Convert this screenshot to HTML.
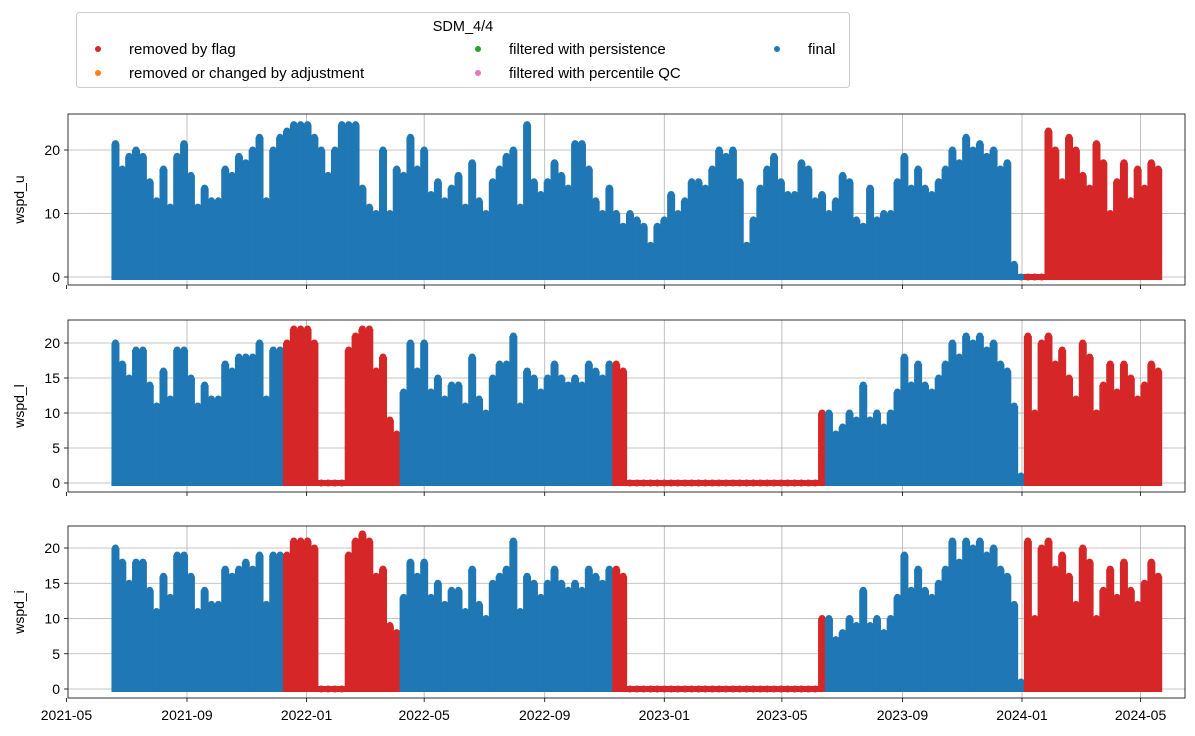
<!DOCTYPE html>
<html><head><meta charset="utf-8">
<style>
body{margin:0;background:#fff;}
svg{display:block;font-family:"Liberation Sans",sans-serif;}
</style></head>
<body>
<svg id="chart" width="1195" height="736" viewBox="0 0 1195 736"></svg>
<script>
const startDate = "2021-06-20";
const stepDays = 7;
const xTickLabels = ["2021-05","2021-09","2022-01","2022-05","2022-09","2023-01","2023-05","2023-09","2024-01","2024-05"];
const panelNames = ["wspd_u","wspd_l","wspd_i"];
const wspdU = [21,17,19,20,19,15,12,17,11,19,
 21,16,11,14,12,12,17,16,19,18,20,22,12,20,22,23,24,24,
 24,22,20,16,20,24,24,24,14,11,10,20,10,17,16,22,17,
 20,13,15,12,14,16,11,18,12,10,15,17,19,20,11,24,15,13,
 15,18,16,14,21,21,17,12,10,14,10,8,10,9,8,5,8,9,
 13,10,12,15,15,14,17,20,19,20,15,5,9,14,17,19,15,13,
 13,18,17,12,13,10,12,16,15,9,8,14,9,10,10,15,19,14,
 17,14,13,15,17,20,18,22,20,21,19,20,17,18,
 2,0,0,0,0,23,20,15,22,20,16,14,21,18,10,15,18,12,17,14,18,17];
const wspdL = [20,17,15,19,19,14,11,16,12,19,
 19,15,11,14,12,12,17,16,18,18,18,20,12,19,19,20,22,22,
 22,20,0,0,0,0,19,21,22,22,16,18,9,7,13,20,16,
 20,13,15,12,14,14,11,18,12,10,15,17,17,21,11,16,15,13,
 15,17,15,14,15,14,17,16,15,17,17,16,0,0,0,0,0,0,
 0,0,0,0,0,0,0,0,0,0,0,0,0,0,0,0,0,0,
 0,0,0,0,10,10,7,8,10,9,14,9,10,8,10,13,18,14,
 17,14,13,15,17,20,18,21,20,21,19,20,17,16,
 11,1,21,10,20,21,17,19,15,12,20,18,10,14,17,13,17,15,12,14,17,16];
const wspdI = [20,18,15,18,18,14,11,16,13,19,
 19,16,11,14,12,12,17,16,17,18,17,19,12,19,19,19,21,21,
 21,20,0,0,0,0,19,21,22,21,16,17,9,8,13,18,16,
 18,13,15,12,14,14,11,17,12,10,15,16,17,21,11,16,15,13,
 15,17,15,14,15,14,17,16,15,17,17,16,0,0,0,0,0,0,
 0,0,0,0,0,0,0,0,0,0,0,0,0,0,0,0,0,0,
 0,0,0,0,10,10,7,8,10,9,14,9,10,8,10,13,19,14,
 17,14,13,15,17,21,18,21,20,21,19,20,17,16,
 12,1,21,10,20,21,17,19,16,12,20,18,10,14,17,13,18,14,12,15,18,16];
const redSpansU = [["2024-01-01","2024-06-01"]];
const redSpansL = [["2021-12-08","2022-04-10"],["2022-11-08","2023-06-15"],["2024-01-01","2024-06-01"]];
const redSpansI = [["2021-12-08","2022-04-10"],["2022-11-08","2023-06-15"],["2024-01-01","2024-06-01"]];
const yTicksU = [0,10,20];
const yTicksL = [0,5,10,15,20];
const yTicksI = [0,5,10,15,20];

const NS="http://www.w3.org/2000/svg";
const svg=document.getElementById('chart');
function mk(tag,attrs,parent){const e=document.createElementNS(NS,tag);for(const k in attrs)e.setAttribute(k,attrs[k]);(parent||svg).appendChild(e);return e;}
const RED="#d62728",BLUE="#1f77b4";
const L=68,R=1185;
const ref0=Date.UTC(2021,8,1);
function dayNum(s){const p=s.split('-').map(Number);return (Date.UTC(p[0],p[1]-1,p[2]||1)-ref0)/86400000;}
function xScale(d){return 187+d*(835/852);}
const panels=[
 {name:panelNames[0],vals:wspdU,spans:redSpansU,ticks:yTicksU,top:114,bot:285,y0:277,ppu:6.35},
 {name:panelNames[1],vals:wspdL,spans:redSpansL,ticks:yTicksL,top:320,bot:492,y0:483,ppu:7.0},
 {name:panelNames[2],vals:wspdI,spans:redSpansI,ticks:yTicksI,top:526,bot:698,y0:689,ppu:7.05}
];
const d0=dayNum(startDate);
panels.forEach((p,pi)=>{
 const g=mk('g',{});
 
 
 const yS=v=>p.y0-v*p.ppu;
 xTickLabels.forEach(t=>{const x=xScale(dayNum(t+"-01"));
  if(x>L&&x<R){const l=mk('line',{x1:x,x2:x,y1:p.top,y2:p.bot,stroke:'#b0b0b0','stroke-width':0.8},g);
  }});
 p.ticks.forEach(t=>{const y=yS(t);
  const l=mk('line',{x1:L,x2:R,y1:y,y2:y,stroke:'#b0b0b0','stroke-width':0.8},g);
  
  mk('line',{x1:L-4,x2:L,y1:y,y2:y,stroke:'#000','stroke-width':0.8},g);
  const tx=mk('text',{x:L-8,y:y+5,'text-anchor':'end','font-size':14},g);tx.textContent=t;
  });
 const spans=p.spans.map(s=>[dayNum(s[0]),dayNum(s[1])]);
 p.vals.forEach((v,i)=>{
  const d=d0+i*stepDays;const x=xScale(d);
  const red=spans.some(s=>d>=s[0]&&d<s[1]);
  const c=red?RED:BLUE;
  if(v>0){const r=mk('rect',{x:x-4,y:yS(v),width:8,height:p.y0-yS(v)+3,fill:c},g);
   }
  const dt=mk('circle',{cx:x,cy:yS(v),r:3.5,fill:c},g);
  
  if(v===0){const z=mk('rect',{x:x-4,y:p.y0-3,width:8,height:6,fill:c},g);
   }
 });
 xTickLabels.forEach(t=>{const x=xScale(dayNum(t+"-01"));
  mk('line',{x1:x,x2:x,y1:p.bot,y2:p.bot+4,stroke:'#000','stroke-width':0.8},g);
  if(pi===2){const tx=mk('text',{x:x,y:p.bot+22,'text-anchor':'middle','font-size':14},g);tx.textContent=t;
   }});
 const fr=mk('rect',{x:L,y:p.top,width:R-L,height:p.bot-p.top,fill:'none',stroke:'#000','stroke-width':0.8},g);
 
 const yl=mk('text',{x:0,y:0,'text-anchor':'middle','font-size':14,transform:`translate(24,${(p.top+p.bot)/2}) rotate(-90)`},g);
 yl.textContent=p.name;
});
const lg=mk('g',{});

mk('rect',{x:76.5,y:12.5,width:773,height:75,rx:3,fill:'#fff',stroke:'#ccc'},lg);
const lt=mk('text',{x:463,y:31,'text-anchor':'middle','font-size':14.5},lg);lt.textContent="SDM_4/4";

const entries=[["removed by flag",RED,98,49],["removed or changed by adjustment","#ff7f0e",98,73],
 ["filtered with persistence","#2ca02c",478,49],["filtered with percentile QC","#e377c2",478,73],["final",BLUE,777,49]];
entries.forEach(e=>{const eg=mk('g',{},lg);
 
 mk('circle',{cx:e[2],cy:e[3],r:3,fill:e[1]},eg);
 const t=mk('text',{x:e[2]+31,y:e[3]+5,'font-size':15},eg);t.textContent=e[0];});
</script>
</body></html>
